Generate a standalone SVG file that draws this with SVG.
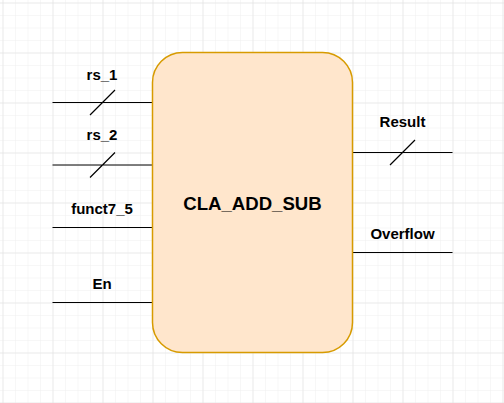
<svg xmlns="http://www.w3.org/2000/svg" width="504" height="403" viewBox="0 0 504 403">
<defs>
<pattern id="minor" x="2.5" y="2.5" width="12.5" height="12.5" patternUnits="userSpaceOnUse">
<path d="M0 0H12.5M0 0V12.5" fill="none" stroke="#f0f0f0" stroke-width="1"/>
</pattern>
<pattern id="major" x="2.5" y="2.5" width="50" height="50" patternUnits="userSpaceOnUse">
<path d="M0 0H50M0 0V50" fill="none" stroke="#e0e0e0" stroke-width="1"/>
</pattern>
<style>
.wire{stroke:#000;stroke-width:1.2;fill:none}
.lbl{font-family:"Liberation Sans",Arial,sans-serif;font-weight:bold;font-size:15px;fill:#000;text-anchor:middle}
.title{font-family:"Liberation Sans",Arial,sans-serif;font-weight:bold;font-size:18.6px;fill:#000;text-anchor:middle}
.box{fill:#ffe6cc;stroke:#d79b00;stroke-width:1.5}
</style>
</defs>
<rect width="504" height="403" fill="#fff"/>
<rect width="504" height="403" fill="url(#minor)"/>
<rect width="504" height="403" fill="url(#major)"/>
<g id="connectors">
<path class="wire" d="M52.5 102.5H152.5M90 115L115 90"/>
<path class="wire" d="M52.5 165H152.5M90 177.5L115 152.5"/>
<path class="wire" d="M52.5 227.5H152.5"/>
<path class="wire" d="M52.5 302.5H152.5"/>
<path class="wire" d="M352.5 152.5H452.5M390 165L415 140"/>
<path class="wire" d="M352.5 252.5H452.5"/>
</g>
<g id="labels">
<text class="lbl" x="102" y="79.5">rs_1</text>
<text class="lbl" x="102" y="139.5">rs_2</text>
<text class="lbl" x="102" y="213.5">funct7_5</text>
<text class="lbl" x="102" y="289">En</text>
<text class="lbl" x="402.5" y="127">Result</text>
<text class="lbl" x="402.5" y="238.5">Overflow</text>
</g>
<g id="cla_add_sub">
<rect class="box" x="152.5" y="52.5" width="200" height="300" rx="30" ry="30"/>
<text class="title" x="252.5" y="209.5">CLA_ADD_SUB</text>
</g>
</svg>
